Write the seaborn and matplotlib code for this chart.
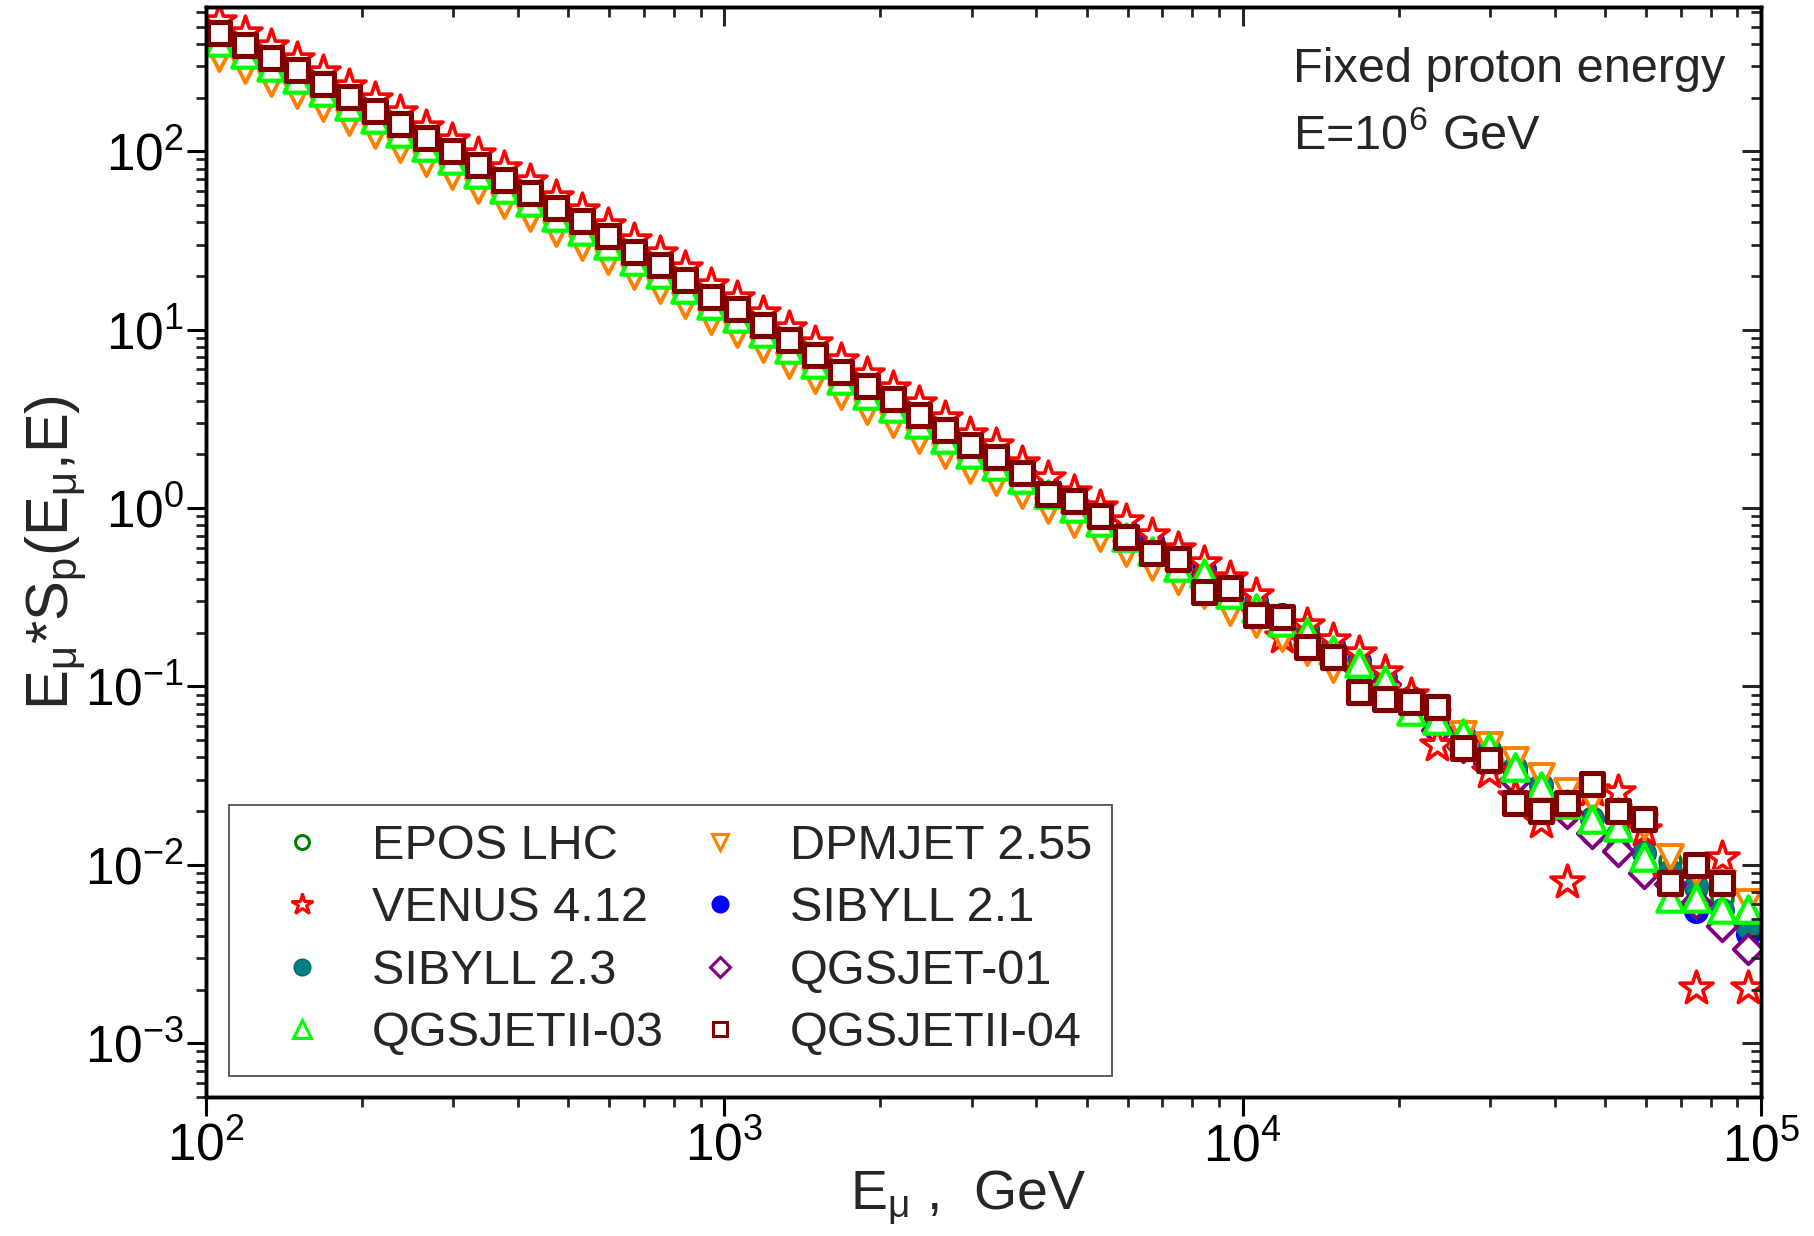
import numpy as np
import pandas as pd
import matplotlib
matplotlib.use("Agg")
import matplotlib.pyplot as plt
import seaborn as sns
from matplotlib.lines import Line2D

# ---------------- data ----------------
e_mu = [105.9, 118.9, 133.4, 149.6, 167.9, 188.4, 211.4, 237.1, 266.1, 298.5,
        335.0, 375.8, 421.7, 473.2, 530.9, 595.7, 668.3, 749.9, 841.4, 944.1,
        1059, 1189, 1334, 1496, 1679, 1884, 2114, 2371, 2661, 2985,
        3350, 3758, 4217, 4732, 5309, 5957, 6683, 7499, 8414, 9441,
        10590, 11890, 13340, 14960, 16790, 18840, 21140, 23710, 26610, 29850,
        33500, 37580, 42170, 47320, 53090, 59570, 66830, 74990, 84140, 94410]

epos_lhc = [440, 378, 318, 271, 229, 192, 162, 136, 113, 95.3,
            79.4, 66.1, 55.7, 45.8, 38.5, 31.8, 26.2, 22.0, 18.2, 14.7,
            12.4, 10.2, 8.38, 6.90, 5.56, 4.63, 3.89, 3.18, 2.62, 2.15,
            1.85, 1.55, 1.29, 1.07, 0.891, 0.741, 0.617, 0.513, 0.427, 0.355,
            0.295, 0.245, 0.204, 0.166, 0.135, 0.110, 0.0871, 0.0692, 0.0550, 0.0447,
            0.0355, 0.0282, 0.0224, 0.0182, 0.0148, 0.0117, 0.0105, 0.00741, 0.00650, 0.00501]

venus_412 = [535, 460, 387, 330, 278, 233, 197, 165, 137, 116,
             96.5, 80.4, 67.7, 55.7, 46.8, 38.7, 31.9, 26.8, 22.1, 17.9,
             15.1, 12.4, 10.2, 8.39, 6.76, 5.63, 4.73, 3.87, 3.19, 2.61,
             2.25, 1.78, 1.48, 1.23, 1.02, 0.851, 0.708, 0.589, 0.490, 0.408,
             0.326, 0.190, 0.220, 0.182, 0.153, 0.121, 0.0891, 0.0469, 0.0468, 0.0333,
             0.0240, 0.0174, 0.00804, 0.0263, 0.0256, 0.0157, 0.00832, 0.00203, 0.0109, 0.00203]

sibyll_23 = [435, 374, 315, 268, 226, 190, 160, 135, 112, 94.2,
             78.5, 65.4, 55.1, 45.3, 38.1, 31.4, 25.9, 21.8, 18.0, 14.5,
             12.3, 10.1, 8.29, 6.82, 5.50, 4.58, 3.85, 3.15, 2.59, 2.13,
             1.83, 1.53, 1.28, 1.06, 0.881, 0.733, 0.610, 0.507, 0.422, 0.351,
             0.292, 0.242, 0.202, 0.164, 0.134, 0.109, 0.0862, 0.0685, 0.0544, 0.0442,
             0.0351, 0.0279, 0.0222, 0.0180, 0.0146, 0.0116, 0.00924, 0.00759, 0.00560, 0.00447]

qgsjetii_03 = [410, 353, 297, 253, 214, 179, 151, 127, 105, 88.9,
               74.1, 61.7, 52.0, 42.7, 35.9, 29.7, 24.4, 20.5, 17.0, 13.7,
               11.6, 9.52, 7.82, 6.44, 5.19, 4.32, 3.63, 2.97, 2.44, 2.01,
               1.73, 1.45, 1.20, 1.00, 0.831, 0.691, 0.576, 0.470, 0.430, 0.331,
               0.275, 0.229, 0.203, 0.160, 0.135, 0.109, 0.0733, 0.0649, 0.0546, 0.0459,
               0.0355, 0.0278, 0.0219, 0.0180, 0.0163, 0.0110, 0.00656, 0.00649, 0.00563, 0.00569]

dpmjet_255 = [334, 287, 241, 206, 174, 146, 123, 103, 85.8, 72.3,
              60.3, 50.2, 42.3, 34.8, 29.2, 24.1, 19.9, 16.7, 13.8, 11.2,
              9.41, 7.74, 6.36, 5.24, 4.22, 3.51, 2.95, 2.41, 1.99, 1.63,
              1.40, 1.18, 0.979, 0.812, 0.676, 0.562, 0.468, 0.389, 0.324, 0.260,
              0.224, 0.186, 0.155, 0.126, 0.102, 0.0873, 0.0741, 0.0631, 0.0538, 0.0468,
              0.0387, 0.0316, 0.0258, 0.0231, 0.0186, 0.0166, 0.0111, 0.00912, 0.00787, 0.00620]

sibyll_21 = [450, 387, 325, 277, 234, 196, 166, 139, 116, 97.5,
             81.2, 67.6, 57.0, 46.9, 39.4, 32.5, 26.8, 22.5, 18.6, 15.0,
             12.7, 10.4, 8.57, 7.06, 5.69, 4.74, 3.98, 3.25, 2.68, 2.20,
             1.89, 1.59, 1.32, 1.09, 0.911, 0.758, 0.660, 0.525, 0.455, 0.363,
             0.302, 0.251, 0.209, 0.170, 0.138, 0.112, 0.0813, 0.0646, 0.0513, 0.0417,
             0.0331, 0.0235, 0.0195, 0.0150, 0.0123, 0.00973, 0.00776, 0.00550, 0.00490, 0.00410]

qgsjet_01 = [445, 382, 322, 274, 232, 194, 164, 138, 114, 96.4,
             80.4, 66.9, 56.4, 46.3, 39.0, 32.2, 26.5, 22.3, 18.4, 14.9,
             12.5, 10.3, 8.48, 6.98, 5.63, 4.69, 3.94, 3.22, 2.65, 2.18,
             1.87, 1.57, 1.30, 1.08, 0.880, 0.725, 0.600, 0.500, 0.410, 0.340,
             0.276, 0.229, 0.190, 0.155, 0.126, 0.103, 0.0813, 0.0569, 0.0460, 0.0372,
             0.0299, 0.0240, 0.0195, 0.0151, 0.0120, 0.00895, 0.00776, 0.00610, 0.00457, 0.00339]

qgsjetii_04 = [460, 395, 333, 284, 239, 201, 169, 143, 119, 99.8,
               83.2, 69.2, 58.3, 48.0, 40.4, 33.3, 27.4, 23.1, 19.0, 15.3,
               13.0, 10.6, 8.77, 7.23, 5.82, 4.85, 4.07, 3.33, 2.74, 2.25,
               1.94, 1.57, 1.20, 1.10, 0.904, 0.692, 0.558, 0.516, 0.340, 0.355,
               0.251, 0.246, 0.167, 0.147, 0.0933, 0.0851, 0.0820, 0.0769, 0.0450, 0.0386,
               0.0221, 0.0201, 0.0221, 0.0284, 0.0201, 0.0180, 0.00793, 0.00995, 0.00793, None]

model_names = ["EPOS LHC", "VENUS 4.12", "SIBYLL 2.3", "QGSJETII-03",
               "DPMJET 2.55", "SIBYLL 2.1", "QGSJET-01", "QGSJETII-04"]
model_values = [epos_lhc, venus_412, sibyll_23, qgsjetii_03,
                dpmjet_255, sibyll_21, qgsjet_01, qgsjetii_04]

# ---------------- styles ----------------
styles = {
    "EPOS LHC":    dict(marker="o", ms=15, fc="white",   ec="#008000", lw=2.6),
    "SIBYLL 2.1":  dict(marker="o", ms=17, fc="#0000FF", ec="#0000FF", lw=1.0),
    "SIBYLL 2.3":  dict(marker="o", ms=17, fc="#007F7F", ec="#006A6A", lw=1.0),
    "QGSJET-01":   dict(marker="D", ms=15, fc="white",   ec="#800080", lw=2.8),
    "VENUS 4.12":  dict(marker="*", ms=25, fc="white",   ec="#FF0000", lw=2.6),
    "DPMJET 2.55": dict(marker="v", ms=18, fc="white",   ec="#FF8000", lw=2.8),
    "QGSJETII-03": dict(marker="^", ms=19, fc="white",   ec="#00FF00", lw=3.0),
    "QGSJETII-04": dict(marker="s", ms=16, fc="white",   ec="#800000", lw=3.7),
}
draw_order = ["EPOS LHC", "SIBYLL 2.1", "SIBYLL 2.3", "QGSJET-01",
              "VENUS 4.12", "DPMJET 2.55", "QGSJETII-03", "QGSJETII-04"]

frames = []
for name, vals in zip(model_names, model_values):
    frames.append(pd.DataFrame({"E_mu": e_mu, "value": vals, "model": name}))
df = pd.concat(frames, ignore_index=True)
df["value"] = pd.to_numeric(df["value"])

sns.set_theme(style="ticks")
plt.rcParams.update({
    "font.family": ["Liberation Sans", "DejaVu Sans"],
    "mathtext.fontset": "custom",
    "mathtext.rm": "Liberation Sans",
    "mathtext.it": "Liberation Sans",
    "mathtext.bf": "Liberation Sans:bold",
    "mathtext.default": "regular",
    "axes.unicode_minus": False,
    "axes.linewidth": 2.4,
    "axes.edgecolor": "black",
})

fig = plt.figure(figsize=(18.15, 12.36), dpi=100)
ax = fig.add_axes([0.1135, 0.1125, 0.8567, 0.8815])

for i, name in enumerate(draw_order):
    st = styles[name]
    sub = df[df["model"] == name].dropna()
    sns.scatterplot(data=sub, x="E_mu", y="value", ax=ax, marker=st["marker"],
                    s=st["ms"] ** 2, color=st["ec"], facecolor=st["fc"],
                    edgecolor=st["ec"], linewidth=st["lw"], legend=False,
                    zorder=3 + i)

ax.set_xscale("log")
ax.set_yscale("log")
ax.set_xlim(100, 1e5)
ax.set_ylim(5e-4, 640)

tick_kw = dict(colors="black", width=2.2, labelsize=37)
ax.tick_params(axis="both", which="major", direction="out", length=14, pad=4, **tick_kw)
ax.tick_params(axis="both", which="minor", direction="out", length=7, width=2.0)
ax.tick_params(axis="y", which="major", pad=2)
ax.tick_params(top=False, right=False, which="both")

# mirrored inward ticks on top and right
ax_t = ax.twiny()
ax_t.set_xscale("log")
ax_t.set_xlim(ax.get_xlim())
ax_t.tick_params(axis="x", which="major", direction="in", length=14, width=2.2,
                 top=True, labeltop=False, bottom=False, labelbottom=False)
ax_t.tick_params(axis="x", which="minor", direction="in", length=7, width=2.0,
                 top=True, bottom=False)
ax_r = ax.twinx()
ax_r.set_yscale("log")
ax_r.set_ylim(ax.get_ylim())
ax_r.tick_params(axis="y", which="major", direction="in", length=14, width=2.2,
                 right=True, labelright=False, left=False, labelleft=False)
ax_r.tick_params(axis="y", which="minor", direction="in", length=7, width=2.0,
                 right=True, left=False)
for a in (ax, ax_t, ax_r):
    for sp in a.spines.values():
        sp.set_linewidth(2.4)
        sp.set_color("black")

ax.set_xlabel(r"E$_{\mu}$ ,  GeV", fontsize=40)
ax.set_ylabel(r"E$_{\mu}$*S$_{p}$(E$_{\mu}$,E)", fontsize=43)
ax.xaxis.set_label_coords(0.49, -0.066)
ax.yaxis.set_label_coords(-0.075, 0.5)

ax.text(0.699, 0.932, "Fixed proton energy", transform=ax.transAxes,
        fontsize=35, ha="left", va="baseline")
ax.text(0.699, 0.870, r"E=10$^{6}$ GeV", transform=ax.transAxes,
        fontsize=35, ha="left", va="baseline")

legend_sizes = {"EPOS LHC": 10, "SIBYLL 2.1": 12, "SIBYLL 2.3": 12, "QGSJET-01": 10,
                "VENUS 4.12": 16, "DPMJET 2.55": 12, "QGSJETII-03": 13, "QGSJETII-04": 10}
handles = []
for name in model_names:
    st = styles[name]
    handles.append(Line2D([], [], linestyle="none", marker=st["marker"],
                          markersize=legend_sizes[name], markerfacecolor=st["fc"],
                          markeredgecolor=st["ec"], markeredgewidth=min(st["lw"], 2.2)))
leg = ax.legend(handles, model_names, ncol=2, loc="lower left",
                bbox_to_anchor=(0.0148, 0.0193), fontsize=35, frameon=True,
                fancybox=False, framealpha=1, edgecolor="#505050",
                borderpad=0.4, handlelength=2.2, handletextpad=0.34,
                labelspacing=0.36, columnspacing=0.05, borderaxespad=0)
leg.get_frame().set_linewidth(1.3)
leg.set_zorder(20)

fig.savefig("out.png", dpi=100)
